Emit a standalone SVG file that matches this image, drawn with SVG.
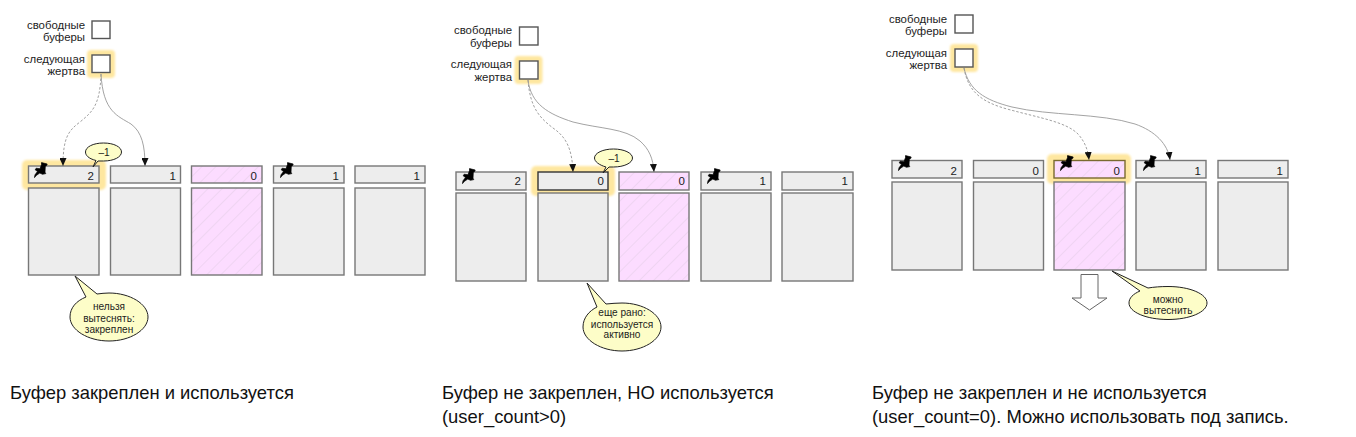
<svg xmlns="http://www.w3.org/2000/svg" width="1356" height="437" viewBox="0 0 1356 437">
<style>
text{font-family:"Liberation Sans",Arial,sans-serif;fill:#1c1c1c}
.l{font-size:11.4px;text-anchor:end}
.n{font-size:11.5px;text-anchor:end}
.c{font-size:10.1px;text-anchor:middle}
.cap{font-size:18.4px;fill:#111}
.g{fill:#ededed;stroke:#777;stroke-width:1.4}
.p{fill:url(#hatch);stroke:#777;stroke-width:1.4}
.b{fill:#fff;stroke:#555;stroke-width:1.4}
.glow{fill:#fee7a0;filter:url(#soft)}
.call{fill:#fdfdc8;stroke:#222;stroke-width:1}
.d{fill:none;stroke:#888;stroke-width:.8;stroke-dasharray:2.5 1.8;marker-end:url(#ah)}
.s{fill:none;stroke:#999;stroke-width:.9;marker-end:url(#ah)}
</style>
<defs>
<filter id="soft" x="-20%" y="-30%" width="140%" height="160%"><feGaussianBlur stdDeviation="0.8"/></filter>
<pattern id="hatch" width="10" height="10" patternUnits="userSpaceOnUse" patternTransform="rotate(-45)"><rect width="10" height="10" fill="#fcdcff"/><line x1="0" y1="0" x2="10" y2="0" stroke="#e3cce6" stroke-width="1"/></pattern>
<marker id="ah" markerUnits="userSpaceOnUse" markerWidth="9" markerHeight="7" refX="8" refY="3.500" orient="auto" viewBox="0 0 9 7"><path d="M0,0 L8,3.500 L0,7 Z" fill="#111"/></marker>
<symbol id="pin" viewBox="0 0 16 16" width="16" height="16"><path d="M8.500,.6 L14.200,2 L13.600,3.600 L12.300,4.200 L12,10.200 L12.800,11.600 L9.500,12.300 L6.800,11 L3.200,13.500 L1.500,15.600 L2,12.800 L4.500,9.500 L2.200,7.800 L3.200,6.200 L7,6.800 L8.500,2.500 Z" fill="#000" stroke="#000" stroke-width=".7" stroke-linejoin="round"/></symbol>
</defs>
<rect width="1356" height="437" fill="#fff"/>

<g id="panel1">
<g id="p1-free"><text class="l" x="85" y="29">свободные</text><text class="l" x="85" y="41">буферы</text><rect class="b" x="92" y="21" width="18" height="17.500"/></g>
<g id="p1-victim"><rect class="glow" x="87" y="50" width="28" height="28" rx="4"/><text class="l" x="85" y="63">следующая</text><text class="l" x="85" y="75">жертва</text><rect class="b" x="92" y="55" width="18" height="17.500"/></g>
<g id="p1-b1"><rect class="glow" x="22" y="160" width="84" height="30" rx="5"/><rect class="g" x="28.500" y="166" width="70.500" height="17"/><rect class="g" x="28.500" y="188" width="70.500" height="87"/><use href="#pin" x="33" y="162"/><text class="n" x="94" y="180">2</text></g>
<g id="p1-b2"><rect class="g" x="110.500" y="166" width="70" height="17"/><rect class="g" x="110.500" y="188" width="70" height="87"/><text class="n" x="176" y="180">1</text></g>
<g id="p1-b3"><rect class="p" x="191.500" y="166" width="70.500" height="17"/><rect class="p" x="191.500" y="188" width="70.500" height="87"/><text class="n" x="257" y="180">0</text></g>
<g id="p1-b4"><rect class="g" x="273.500" y="166" width="70.500" height="17"/><rect class="g" x="273.500" y="188" width="70.500" height="87"/><use href="#pin" x="279" y="162"/><text class="n" x="339" y="180">1</text></g>
<g id="p1-b5"><rect class="g" x="355" y="166" width="70" height="17"/><rect class="g" x="355" y="188" width="70" height="87"/><text class="n" x="420" y="180">1</text></g>
<g id="p1-c1"><path class="call" d="M93,167 L96,160.500 C88,158.500 85.500,155 85.500,152 C85.500,147 93,143 103.500,143 C114,143 121.500,147 121.500,152 C121.500,157 114,161 103.500,161 L98,161 Z"/><text class="c" x="104" y="156">–1</text></g>
<g id="p1-c2"><path class="call" d="M75,276 L97,294 C101,293.500 105,293 109,293 C130,293 148,304 148,317 C148,330 130,341 109,341 C88,341 70,330 70,317 C70,308 76,301 86,297 Z"/><text class="c" x="109" y="310">нельзя</text><text class="c" x="109" y="322">вытеснять:</text><text class="c" x="109" y="333">закреплен</text></g>
<text class="cap" x="10" y="399">Буфер закреплен и используется</text>
</g>

<g id="panel2">
<g id="p2-free"><text class="l" x="512" y="34">свободные</text><text class="l" x="512" y="47">буферы</text><rect class="b" x="519.500" y="27" width="18.500" height="18"/></g>
<g id="p2-victim"><rect class="glow" x="514.500" y="56" width="28" height="28" rx="4"/><text class="l" x="512" y="68">следующая</text><text class="l" x="512" y="81">жертва</text><rect class="b" x="519.500" y="61" width="18.500" height="18"/></g>
<g id="p2-b1"><rect class="g" x="456" y="172" width="70" height="18"/><rect class="g" x="456" y="193" width="70" height="88"/><use href="#pin" x="461" y="168"/><text class="n" x="521" y="185">2</text></g>
<g id="p2-b2"><rect class="glow" x="531" y="166" width="84" height="30" rx="5"/><rect class="g" x="538" y="172" width="70" height="18" style="stroke:#333"/><rect class="g" x="538" y="193" width="70" height="88"/><text class="n" x="604" y="185">0</text></g>
<g id="p2-b3"><rect class="p" x="619" y="172" width="70" height="18"/><rect class="p" x="619" y="193" width="70" height="88"/><text class="n" x="685" y="185">0</text></g>
<g id="p2-b4"><rect class="g" x="701" y="172" width="70" height="18"/><rect class="g" x="701" y="193" width="70" height="88"/><use href="#pin" x="706" y="168"/><text class="n" x="766" y="185">1</text></g>
<g id="p2-b5"><rect class="g" x="782" y="172" width="71" height="18"/><rect class="g" x="782" y="193" width="71" height="88"/><text class="n" x="848" y="185">1</text></g>
<g id="p2-c1"><path class="call" d="M603,173 L606,167 C599,165 594.500,161.500 594.500,158 C594.500,153 603,149 613.500,149 C624,149 632.500,153 632.500,158 C632.500,163 624,167 613.500,167 L609,167 Z"/><text class="c" x="614" y="162">–1</text></g>
<g id="p2-c2"><path class="call" d="M587,283 L606,304 C611,303.500 617,303 622,303 C643,303 661,314 661,327 C661,340 643,351 622,351 C601,351 583,340 583,327 C583,318 589,311 597,307 Z"/><text class="c" x="622" y="316">еще рано:</text><text class="c" x="622" y="327.500">используется</text><text class="c" x="622" y="338">активно</text></g>
<text class="cap" x="442" y="399">Буфер не закреплен, НО используется</text>
<text class="cap" x="442" y="423">(user_count&gt;0)</text>
</g>

<g id="panel3">
<g id="p3-free"><text class="l" x="947" y="23">свободные</text><text class="l" x="947" y="35">буферы</text><rect class="b" x="955" y="15" width="18" height="18"/></g>
<g id="p3-victim"><rect class="glow" x="950" y="44" width="28" height="28" rx="4"/><text class="l" x="947" y="57">следующая</text><text class="l" x="947" y="69">жертва</text><rect class="b" x="955" y="49" width="18" height="18"/></g>
<g id="p3-b1"><rect class="g" x="892" y="160.500" width="70" height="17.500"/><rect class="g" x="892" y="182" width="70" height="88"/><use href="#pin" x="897" y="155"/><text class="n" x="957" y="175">2</text></g>
<g id="p3-b2"><rect class="g" x="973.500" y="160.500" width="70" height="17.500"/><rect class="g" x="973.500" y="182" width="70" height="88"/><text class="n" x="1039" y="175">0</text></g>
<g id="p3-b3"><rect class="glow" x="1047" y="154" width="84" height="30" rx="5"/><rect class="p" x="1054" y="160.500" width="71" height="17.500" style="stroke:#7a6a30"/><rect class="p" x="1054" y="182" width="71" height="88"/><use href="#pin" x="1059" y="155"/><text class="n" x="1120" y="175">0</text></g>
<g id="p3-b4"><rect class="g" x="1136" y="160.500" width="70" height="17.500"/><rect class="g" x="1136" y="182" width="70" height="88"/><use href="#pin" x="1142" y="155"/><text class="n" x="1201" y="175">1</text></g>
<g id="p3-b5"><rect class="g" x="1218" y="160.500" width="70" height="17.500"/><rect class="g" x="1218" y="182" width="70" height="88"/><text class="n" x="1283" y="175">1</text></g>
<g id="p3-arrow"><path d="M1081,274.500 H1098 V298 H1107 L1089.500,310 L1072,298 H1081 Z" fill="#fff" stroke="#666" stroke-width="1"/></g>
<g id="p3-c1"><path class="call" d="M1112,271 L1148,288 C1154,287 1161,286.500 1168,286.500 C1190,286.500 1207,294 1207,303 C1207,312 1190,319.500 1168,319.500 C1146,319.500 1129,312 1129,303 C1129,298 1133,294 1140,291 Z"/><text class="c" x="1168" y="303">можно</text><text class="c" x="1168" y="314">вытеснить</text></g>
<text class="cap" x="872" y="399">Буфер не закреплен и не используется</text>
<text class="cap" x="872" y="423">(user_count=0). Можно использовать под запись.</text>
</g>

<g id="connectors">
<path class="d" d="M101,74 C100,106 92,112 80,122 C68,131 63,138 63,166"/>
<path class="s" d="M101,74 C103,112 118,116 131,124 C142,132 145,146 145,166"/>
<path class="d" d="M528,80 C530,108 540,118 553,128 C566,137 572,148 573,172"/>
<path class="s" d="M528,80 C531,104 548,114 573,122 C600,129 625,128 640,141 C649,149 653,158 654,172"/>
<path class="d" d="M964,68 C968,92 982,102 1007,109 C1040,118 1066,122 1078,134 C1085,142 1088,150 1089,160"/>
<path class="s" d="M964,68 C969,90 984,100 1012,107 C1050,116 1100,113 1135,124 C1155,131 1168,144 1170,160"/>
</g>
</svg>
